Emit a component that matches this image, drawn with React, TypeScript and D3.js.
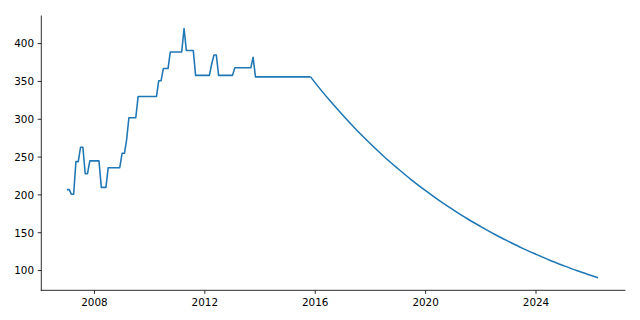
import React from "react";
import * as d3 from "d3";

// Step-shaped part (vertices of the line), month strings and values
const stepDates = [
  "2007-01", "2007-02", "2007-03", "2007-04", "2007-05", "2007-06", "2007-07", "2007-08",
  "2007-09", "2007-10", "2007-11", "2008-03", "2008-04", "2008-06", "2008-07", "2008-12",
  "2009-01", "2009-02", "2009-03", "2009-04", "2009-07", "2009-08", "2010-04", "2010-05",
  "2010-06", "2010-07", "2010-09", "2010-10", "2011-03", "2011-04", "2011-05", "2011-08",
  "2011-09", "2012-03", "2012-04", "2012-05", "2012-06", "2012-07", "2013-01", "2013-02",
  "2013-09", "2013-10", "2013-11", "2015-11",
];
const stepValues = [
  207, 207, 201, 201, 244, 244, 263, 263,
  228, 228, 245, 245, 210, 210, 236, 236,
  255, 255, 272, 302, 302, 330, 330, 351,
  351, 367, 367, 389, 389, 420, 391, 391,
  358, 358, 373, 385, 385, 358, 358, 368,
  368, 382, 356, 356,
];

// Decaying part, read at half-year points
const decayDates = [
  "2015-11", "2016-01", "2016-07", "2017-01", "2017-07", "2018-01", "2018-07", "2019-01",
  "2019-07", "2020-01", "2020-07", "2021-01", "2021-07", "2022-01", "2022-07", "2023-01",
  "2023-07", "2024-01", "2024-07", "2025-01", "2025-07", "2026-01", "2026-04",
];
const decayValues = [
  356, 348.1, 326.0, 305.2, 285.8, 267.6, 250.5, 234.6,
  219.6, 205.6, 192.5, 180.3, 168.8, 158.1, 148.0, 138.6,
  129.7, 121.5, 113.7, 106.5, 99.7, 93.4, 90.4,
];

const xTickYears = [2008, 2012, 2016, 2020, 2024];
const yTickValues = [100, 150, 200, 250, 300, 350, 400];

const parse = d3.timeParse("%Y-%m");

export default function App() {
  const W = 640, H = 320;
  const left = 41.3, right = 625, top = 16, bottom = 290.3;

  const stepPts = stepDates.map((d, i) => ({ t: parse(d) as Date, v: stepValues[i] }));
  const decayPts = decayDates.map((d, i) => ({ t: parse(d) as Date, v: decayValues[i] }));
  const all = [...stepPts, ...decayPts];

  const [t0, t1] = d3.extent(all, (p) => +p.t) as [number, number];
  const [v0, v1] = d3.extent(all, (p) => p.v) as [number, number];
  const tm = (t1 - t0) * 0.05, vm = (v1 - v0) * 0.05;

  const x = d3.scaleTime().domain([new Date(t0 - tm), new Date(t1 + tm)]).range([40.3, 624.6]);
  const y = d3.scaleLinear().domain([v0 - vm, v1 + vm]).range([bottom, top]);

  const lin = d3.line<{ t: Date; v: number }>().x((p) => x(p.t)).y((p) => y(p.v));
  const smooth = d3
    .line<{ t: Date; v: number }>()
    .x((p) => x(p.t))
    .y((p) => y(p.v))
    .curve(d3.curveMonotoneX);

  const font = "DejaVu Sans, sans-serif";
  const fs = 10.4;
  const tick = 3.6;

  return (
    <svg width={W} height={H} style={{ position: "absolute", left: 0, top: 0, background: "#fff" }}>
      <path d={lin(stepPts) || ""} fill="none" stroke="#1f77b4" strokeWidth={1.56} strokeLinejoin="round" strokeLinecap="butt" />
      <path d={smooth(decayPts) || ""} fill="none" stroke="#1f77b4" strokeWidth={1.56} strokeLinejoin="round" strokeLinecap="butt" />

      {/* spines */}
      <line x1={left} x2={left} y1={top} y2={bottom} stroke="#000" strokeWidth={0.83} strokeLinecap="square" />
      <line x1={left} x2={right} y1={bottom} y2={bottom} stroke="#000" strokeWidth={0.83} strokeLinecap="square" />

      {yTickValues.map((v) => (
        <g key={"y" + v}>
          <line x1={left - tick} x2={left} y1={y(v)} y2={y(v)} stroke="#000" strokeWidth={0.83} />
          <text x={left - tick - 3.6} y={y(v) + 3.8} textAnchor="end" fontFamily={font} fontSize={fs} fill="#000">
            {v}
          </text>
        </g>
      ))}
      {xTickYears.map((yr) => {
        const px = x(new Date(yr, 0, 1));
        return (
          <g key={"x" + yr}>
            <line x1={px} x2={px} y1={bottom} y2={bottom + tick} stroke="#000" strokeWidth={0.83} />
            <text x={px} y={305.6} textAnchor="middle" fontFamily={font} fontSize={fs} fill="#000">
              {yr}
            </text>
          </g>
        );
      })}
    </svg>
  );
}
